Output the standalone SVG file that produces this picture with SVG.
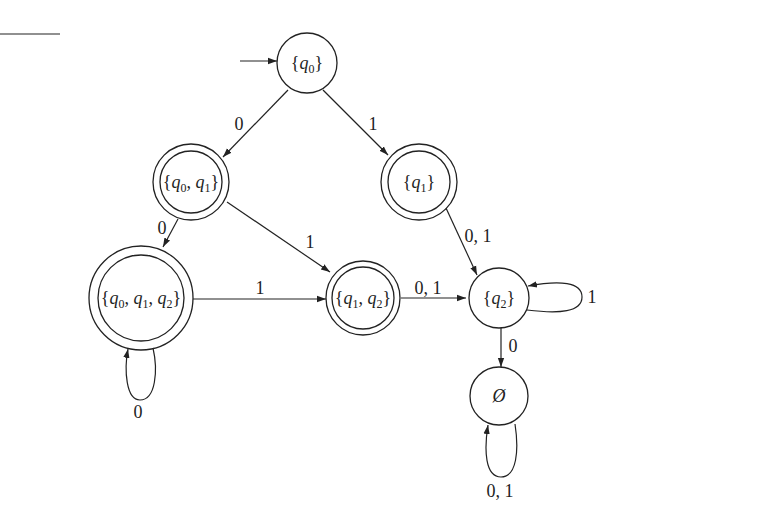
<svg xmlns="http://www.w3.org/2000/svg" width="783" height="508" viewBox="0 0 783 508">
<style>
circle{fill:none;stroke:#222;stroke-width:1.3}
.e{fill:none;stroke:#222;stroke-width:1.2;marker-end:url(#a)}
text{font-family:"Liberation Serif",serif;font-size:18px;fill:#222;text-anchor:middle}
.q{font-style:italic}
.s{font-size:12px}
</style>
<defs><marker id="a" viewBox="0 0 10 10" refX="10" refY="5" markerWidth="9" markerHeight="9" orient="auto" markerUnits="userSpaceOnUse"><path d="M0,1.5L10,5L0,8.5z" fill="#222"/></marker></defs>
<line x1="0" y1="34" x2="60" y2="34" stroke="#222" stroke-width="1.2"/>
<g id="connectors">
<path class="e" d="M240,61H277"/>
<path class="e" d="M288,90L223,157"/>
<path class="e" d="M323,90L388,155"/>
<path class="e" d="M178,219L163,247"/>
<path class="e" d="M227,202L330,272"/>
<path class="e" d="M446,208L477,275"/>
<path class="e" d="M193,299H326"/>
<path class="e" d="M401,298H466"/>
<path class="e" d="M501,328V367"/>
<path class="e" d="M527,310C560,314 582,312 582,297C582,282 560,280 528,286"/>
<path class="e" d="M153,348C158,370 156,400 140,400C126,400 124,370 128,349"/>
<path class="e" d="M515,424C519,450 517,477 501,477C485,477 484,450 488,425"/>
</g>
<g id="labels">
<text x="239" y="130">0</text>
<text x="373" y="130">1</text>
<text x="162" y="234">0</text>
<text x="310" y="248">1</text>
<text x="478" y="242">0, 1</text>
<text x="260" y="294">1</text>
<text x="428" y="294">0, 1</text>
<text x="592" y="303">1</text>
<text x="513" y="352">0</text>
<text x="138" y="418">0</text>
<text x="500" y="497">0, 1</text>
</g>
<g id="q0"><circle cx="307" cy="63" r="30"/><text x="307" y="69">{<tspan class="q">q</tspan><tspan class="s" dy="4">0</tspan><tspan dy="-4">}</tspan></text></g>
<g id="q0q1"><circle cx="191" cy="182" r="38"/><circle cx="191" cy="182" r="31"/><text x="191" y="188">{<tspan class="q">q</tspan><tspan class="s" dy="4">0</tspan><tspan dy="-4">, </tspan><tspan class="q">q</tspan><tspan class="s" dy="4">1</tspan><tspan dy="-4">}</tspan></text></g>
<g id="q1"><circle cx="419" cy="182" r="38"/><circle cx="419" cy="182" r="31"/><text x="419" y="188">{<tspan class="q">q</tspan><tspan class="s" dy="4">1</tspan><tspan dy="-4">}</tspan></text></g>
<g id="q0q1q2"><circle cx="141" cy="298" r="52"/><circle cx="141" cy="298" r="43"/><text x="141" y="304">{<tspan class="q">q</tspan><tspan class="s" dy="4">0</tspan><tspan dy="-4">, </tspan><tspan class="q">q</tspan><tspan class="s" dy="4">1</tspan><tspan dy="-4">, </tspan><tspan class="q">q</tspan><tspan class="s" dy="4">2</tspan><tspan dy="-4">}</tspan></text></g>
<g id="q1q2"><circle cx="363" cy="298" r="37"/><circle cx="363" cy="298" r="31"/><text x="363" y="304">{<tspan class="q">q</tspan><tspan class="s" dy="4">1</tspan><tspan dy="-4">, </tspan><tspan class="q">q</tspan><tspan class="s" dy="4">2</tspan><tspan dy="-4">}</tspan></text></g>
<g id="q2"><circle cx="499" cy="298" r="30"/><text x="499" y="304">{<tspan class="q">q</tspan><tspan class="s" dy="4">2</tspan><tspan dy="-4">}</tspan></text></g>
<g id="empty"><circle cx="499" cy="396" r="29"/><text x="499" y="402" class="q">Ø</text></g>
</svg>
